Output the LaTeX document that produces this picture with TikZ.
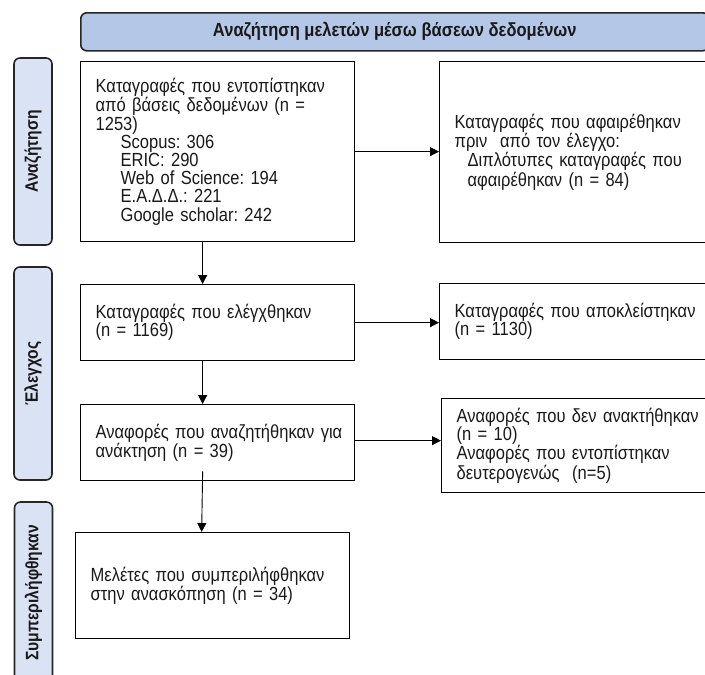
\documentclass[tikz,border=0pt]{standalone}
\usepackage{fontspec}
\setmainfont{Liberation Sans}[FakeStretch=0.87]
\usetikzlibrary{arrows.meta}
\definecolor{bannerfill}{HTML}{B4C7E7}
\definecolor{phasefill}{HTML}{DAE3F3}
\colorlet{edgegray}{black!85}
\frenchspacing
\protected\def\boxfont{\fontsize{19}{18.2}\selectfont\spaceskip=0.22em\relax}

\begin{document}
\begin{tikzpicture}[x=1pt,y=-1pt,
    every node/.style={font=\boxfont, text=black!90},
    rec/.style={draw, line width=1.3pt, anchor=north west, inner xsep=15pt, inner ysep=0pt, align=left},
    phase/.style={draw=edgegray, fill=phasefill, rounded corners=6pt, line width=1.6pt, rotate=90,
        minimum height=38pt, inner sep=0pt, font=\fontsize{18}{18}\selectfont\bfseries},
    arr/.style={-{Triangle[length=9pt,width=9pt]}, line width=0.9pt}]
    \useasboundingbox (0,0) rectangle (705,675);
    \clip (0,0) rectangle (705,675);

    % banner
    \node[draw=edgegray, fill=bannerfill, rounded corners=6pt, line width=1.6pt, anchor=north west,
        minimum width=628pt, minimum height=38pt, inner sep=0pt, font=\fontsize{19}{18}\selectfont\bfseries]
        (banner) at (80,12) {Αναζήτηση μελετών μέσω βάσεων δεδομένων};

    % phases
    \node[phase, minimum width=187pt] (search) at (33,151.5) {Αναζήτηση};
    \node[phase, minimum width=213pt] (screen) at (33,373.5) {Έλεγχος};
    \node[phase, minimum width=182pt] (incl) at (33.5,593) {Συμπεριλήφθηκαν};

    % main column
    \node[rec, text width=244pt, minimum height=180pt] (found) at (80,61)
        {Καταγραφές που εντοπίστηκαν\\από βάσεις δεδομένων (n =\\1253)\\
         \hspace*{25pt}Scopus: 306\\\hspace*{25pt}ERIC: 290\\\hspace*{25pt}Web of Science: 194\\
         \hspace*{25pt}Ε.Α.Δ.Δ.: 221\\\hspace*{25pt}Google scholar: 242};
    \node[rec, text width=244pt, minimum height=76pt] (screened) at (80,284)
        {Καταγραφές που ελέγχθηκαν\\(n = 1169)};
    \node[rec, text width=244pt, minimum height=76pt] (sought) at (80,404)
        {\mbox{Αναφορές που αναζητήθηκαν για}\\ανάκτηση (n = 39)};
    \node[rec, text width=244pt, minimum height=106pt] (included) at (75,532)
        {Μελέτες που συμπεριλήφθηκαν\\στην ανασκόπηση (n = 34)};

    % side column
    \node[rec, text width=262pt, minimum height=181pt] (removed) at (439,61)
        {Καταγραφές που αφαιρέθηκαν\\πριν\ \ από τον έλεγχο:\\
         \hspace*{13pt}Διπλότυπες καταγραφές που\\\hspace*{13pt}αφαιρέθηκαν (n = 84)};
    \node[rec, text width=262pt, minimum height=76pt] (excluded) at (439,283)
        {Καταγραφές που αποκλείστηκαν\\(n = 1130)};
    \node[rec, text width=260pt, minimum height=94pt] (notret) at (441,398)
        {Αναφορές που δεν ανακτήθηκαν\\(n = 10)\\Αναφορές που εντοπίστηκαν\\δευτερογενώς\ \ (n=5)};

    % arrows
    \draw[arr] (found.east) -- (found.east -| removed.west);
    \draw[arr] (screened.east) -- (screened.east -| excluded.west);
    \draw[arr] ([yshift=2pt]sought.east) -- ([yshift=2pt]sought.east -| notret.west);
    \draw[arr] ([xshift=-15pt]found.south) -- ([xshift=-15pt]screened.north);
    \draw[arr] ([xshift=-15pt]screened.south) -- ([xshift=-15pt]sought.north);
    \draw[arr] ([xshift=-15pt,yshift=10pt]sought.south) -- ([xshift=-11pt]included.north);
\end{tikzpicture}
\end{document}
